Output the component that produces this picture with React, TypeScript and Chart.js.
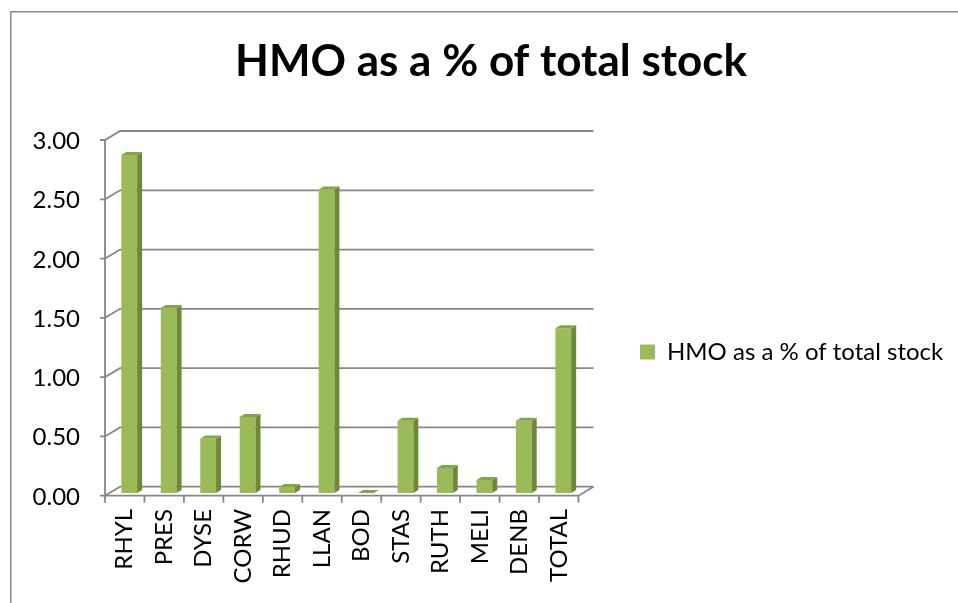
import React, { useEffect, useRef } from "react";
import { Chart, registerables } from "chart.js";

Chart.register(...registerables);

const categories = ["RHYL", "PRES", "DYSE", "CORW", "RHUD", "LLAN", "BOD", "STAS", "RUTH", "MELI", "DENB", "TOTAL"];
const hmoShare = [2.85, 1.56, 0.46, 0.64, 0.05, 2.56, 0.0, 0.61, 0.21, 0.11, 0.61, 1.39];
const seriesLabel = "HMO as a % of total stock";
const chartTitle = "HMO as a % of total stock";
const yMin = 0;
const yMax = 3;
const yStep = 0.5;

const FONT = "Lato";
const GREEN = "#9bbb59";
const GREEN_SIDE = "#6d8a37";
const GREEN_TOP = "#85a34b";
const GRID = "#878787";

// 3D projection: full wall depth vector, bar front plane fraction, bar depth
const WALL_DX = 15;
const WALL_DY = -9;
const BAR_FRONT = 0.3;
const BAR_DEPTH = 1 / 3;

const depthPlugin = {
  id: "depth3d",
  beforeDraw(chart: any) {
    const { ctx, width, height } = chart;
    ctx.save();
    ctx.strokeStyle = "#888888";
    ctx.lineWidth = 1.5;
    ctx.beginPath();
    ctx.moveTo(10.75, height);
    ctx.lineTo(10.75, 11.75);
    ctx.lineTo(width, 11.75);
    ctx.stroke();
    ctx.restore();
  },
  beforeDatasetsDraw(chart: any) {
    const { ctx, chartArea, scales } = chart;
    const y = scales.y;
    const fdx = -BAR_FRONT * WALL_DX;
    const fdy = -BAR_FRONT * WALL_DY;
    const bdx = (1 - BAR_FRONT) * WALL_DX;
    const bdy = (1 - BAR_FRONT) * WALL_DY;
    const frontLeft = chartArea.left + fdx;
    const backLeft = chartArea.left + bdx;
    const backRight = chartArea.right + bdx;
    const frontRight = chartArea.right + fdx;
    ctx.save();
    ctx.strokeStyle = GRID;
    ctx.lineWidth = 1.8;
    ctx.lineCap = "butt";
    for (let v = yMin; v <= yMax + 1e-9; v += yStep) {
      const py = y.getPixelForValue(v);
      ctx.beginPath();
      ctx.moveTo(frontLeft - 5, py + fdy);
      ctx.lineTo(frontLeft, py + fdy);
      ctx.lineTo(backLeft, py + bdy);
      ctx.lineTo(backRight, py + bdy);
      ctx.stroke();
    }
    const y0 = y.getPixelForValue(yMin);
    const yTop = y.getPixelForValue(yMax);
    ctx.beginPath();
    ctx.moveTo(frontLeft, yTop + fdy);
    ctx.lineTo(frontLeft, y0 + fdy);
    ctx.lineTo(frontRight, y0 + fdy);
    ctx.lineTo(backRight, y0 + bdy);
    ctx.stroke();
    const n = categories.length;
    const cw = (chartArea.right - chartArea.left) / n;
    for (let i = 0; i <= n; i++) {
      const px = chartArea.left + i * cw + fdx;
      ctx.beginPath();
      ctx.moveTo(px, y0 + fdy);
      ctx.lineTo(px, y0 + fdy + 7);
      ctx.stroke();
    }
    ctx.restore();
  },
  afterDatasetsDraw(chart: any) {
    const { ctx } = chart;
    const meta = chart.getDatasetMeta(0);
    const ddx = BAR_DEPTH * WALL_DX;
    const ddy = BAR_DEPTH * WALL_DY;
    ctx.save();
    meta.data.forEach((bar: any) => {
      const props = bar.getProps(["x", "y", "base", "width"], true);
      const xl = props.x - props.width / 2;
      const xr = props.x + props.width / 2;
      const top = Math.min(props.y, props.base);
      const base = props.base;
      // side face
      ctx.fillStyle = GREEN_SIDE;
      ctx.beginPath();
      ctx.moveTo(xr, top);
      ctx.lineTo(xr + ddx, top + ddy);
      ctx.lineTo(xr + ddx, base + ddy);
      ctx.lineTo(xr, base);
      ctx.closePath();
      ctx.fill();
      // top face
      ctx.fillStyle = GREEN_TOP;
      ctx.beginPath();
      ctx.moveTo(xl, top);
      ctx.lineTo(xl + ddx, top + ddy);
      ctx.lineTo(xr + ddx, top + ddy);
      ctx.lineTo(xr, top);
      ctx.closePath();
      ctx.fill();
    });
    ctx.restore();
  },
  afterLayout(chart: any) {
    const lg = chart.legend;
    if (lg) {
      const pad = lg.options.labels.padding;
      const itemH = lg._itemHeight || 24;
      const h = lg.bottom - lg.top;
      const targetTop = 352 - pad - itemH / 2;
      lg.top = targetTop;
      lg.bottom = targetTop + h;
    }
    const tb = chart.titleBlock;
    if (tb) {
      tb.left += 36;
      tb.right += 0;
    }
  },
};

export default function App() {
  const ref = useRef<HTMLCanvasElement | null>(null);
  useEffect(() => {
    if (!ref.current) return;
    const tickFont = { family: FONT, size: 24 };
    const chart = new Chart(ref.current, {
      type: "bar",
      data: {
        labels: categories,
        datasets: [
          {
            label: seriesLabel,
            data: hmoShare,
            backgroundColor: GREEN,
            borderColor: GREEN,
            borderWidth: 0,
            barPercentage: 0.4,
            categoryPercentage: 1,
          },
        ],
      },
      options: {
        responsive: false,
        animation: false,
        layout: { padding: { left: 0, right: 12, top: 0, bottom: 0 } },
        plugins: {
          title: {
            display: true,
            text: chartTitle,
            color: "#000",
            font: { family: FONT, size: 44, weight: "bold" },
            padding: { top: 35.6, bottom: 48.9 },
          },
          legend: {
            display: true,
            position: "right",
            align: "start",
            maxWidth: 363,
            labels: {
              boxWidth: 15,
              boxHeight: 15,
              padding: 57,
              color: "#000",
              font: { family: FONT, size: 24 },
            },
          },
          tooltip: { enabled: false },
        },
        scales: {
          x: {
            grid: { display: false, drawTicks: false },
            border: { display: false },
            ticks: {
              autoSkip: false,
              minRotation: 90,
              maxRotation: 90,
              padding: 16,
              labelOffset: -4.5,
              color: "#000",
              font: tickFont,
            },
            afterFit: (s: any) => {
              s.height = 110;
            },
          },
          y: {
            min: yMin,
            max: yMax,
            grid: { display: false, drawTicks: false },
            border: { display: false },
            ticks: {
              stepSize: yStep,
              padding: 29.5,
              labelOffset: 4,
              color: "#000",
              font: tickFont,
              callback: (v: any) => Number(v).toFixed(2),
            },
            afterFit: (s: any) => {
              s.width = 109.5;
            },
          },
        },
      },
      plugins: [depthPlugin],
    });
    return () => chart.destroy();
  }, []);
  return (
    <div style={{ position: "fixed", left: 0, top: 0, width: 958, height: 603, background: "#fff" }}>
      <canvas ref={ref} width={958} height={603} style={{ display: "block" }} />
    </div>
  );
}
